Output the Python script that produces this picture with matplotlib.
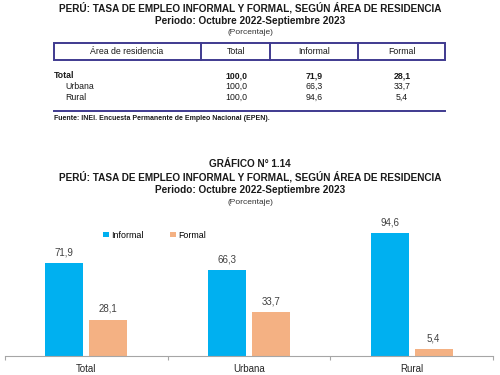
import matplotlib.pyplot as plt
from matplotlib.patches import Rectangle
from matplotlib.lines import Line2D

plt.rcParams['font.family'] = ['Liberation Sans', 'DejaVu Sans']

# data
areas = ["Total", "Urbana", "Rural"]
total = [100.0, 100.0, 100.0]
informal = [71.9, 66.3, 94.6]
formal = [28.1, 33.7, 5.4]
headers = ["Área de residencia", "Total", "Informal", "Formal"]

title = "PERÚ: TASA DE EMPLEO INFORMAL Y FORMAL, SEGÚN ÁREA DE RESIDENCIA"
period = "Periodo: Octubre 2022-Septiembre 2023"
unit = "(Porcentaje)"
source = "Fuente: INEI. Encuesta Permanente de Empleo Nacional (EPEN)."

C_INF = "#00B0F0"
C_FOR = "#F4B183"
C_BOX = "#3F3A8F"
C_TXT = "#1a1a1a"

W, H = 500, 375


def fx(px):
    return px / W


def fy(py):
    return 1 - py / H


def fmt(v):
    return f"{v:.1f}".replace(".", ",")


fig = plt.figure(figsize=(5, 3.75), dpi=100)

# ---- TABLE (top) ----
fig.text(0.5, fy(8), title, ha="center", va="center", fontsize=7.2, fontweight="bold", color=C_TXT)
fig.text(0.5, fy(21), period, ha="center", va="center", fontsize=7.2, fontweight="bold", color=C_TXT)
fig.text(0.5, fy(33), unit, ha="center", va="center", fontsize=6, color="#333333")

# header box
fig.patches.append(Rectangle((fx(54), fy(60)), fx(445) - fx(54), fy(43) - fy(60),
                             transform=fig.transFigure, fill=False, edgecolor=C_BOX, linewidth=1.4))
for xd in [201, 270, 358]:
    fig.lines.append(Line2D([fx(xd), fx(xd)], [fy(43), fy(60)], transform=fig.transFigure,
                            color=C_BOX, linewidth=1.4))
col_x = [127, 236, 314, 402]
for x, h in zip(col_x, headers):
    fig.text(fx(x), fy(51.5), h, ha="center", va="center", fontsize=6.3, color=C_TXT)

row_y = [76, 86.5, 97]
for i, (a, t, inf, fo) in enumerate(zip(areas, total, informal, formal)):
    wt = "bold" if i == 0 else "normal"
    lx = 54 if i == 0 else 65
    fig.text(fx(lx), fy(row_y[i]), a, ha="left", va="center", fontsize=6.3, fontweight=wt, color=C_TXT)
    for x, v in zip(col_x[1:], [t, inf, fo]):
        fig.text(fx(x), fy(row_y[i]), fmt(v), ha="center", va="center", fontsize=6.3,
                 fontweight=wt, color=C_TXT)

fig.lines.append(Line2D([fx(54), fx(445)], [fy(111), fy(111)], transform=fig.transFigure,
                        color=C_BOX, linewidth=1.4))
fig.text(fx(54), fy(118), source, ha="left", va="center", fontsize=5, fontweight="bold", color=C_TXT)

# ---- CHART (bottom) ----
fig.text(0.5, fy(164), "GRÁFICO N° 1.14", ha="center", va="center", fontsize=7.2, fontweight="bold", color=C_TXT)
fig.text(0.5, fy(177), title, ha="center", va="center", fontsize=7.2, fontweight="bold", color=C_TXT)
fig.text(0.5, fy(190), period, ha="center", va="center", fontsize=7.2, fontweight="bold", color=C_TXT)
fig.text(0.5, fy(203), unit, ha="center", va="center", fontsize=6, color="#333333")

ax = fig.add_axes([fx(5), fy(356), fx(493) - fx(5), fy(226.5) - fy(356)])
x = list(range(len(areas)))
bw = 0.235
off = 0.135
b1 = ax.bar([i - off for i in x], informal, width=bw, color=C_INF, label="Informal")
b2 = ax.bar([i + off for i in x], formal, width=bw, color=C_FOR, label="Formal")
for bars, vals in [(b1, informal), (b2, formal)]:
    for r, v in zip(bars, vals):
        ax.text(r.get_x() + r.get_width() / 2, v + 4.5, fmt(v), ha="center", va="bottom",
                fontsize=7, color="#404040")

ax.set_xlim(-0.5, 2.5)
ax.set_ylim(0, 100)
ax.set_yticks([])
ax.set_xticks(x)
ax.set_xticklabels(areas, fontsize=7, color="#262626")
ax.set_xticks([-0.5, 0.5, 1.5, 2.5], minor=True)
ax.tick_params(axis="x", which="major", length=0, pad=6)
ax.tick_params(axis="x", which="minor", length=3, color="#A6A6A6", width=0.8)
for s in ["top", "right", "left"]:
    ax.spines[s].set_visible(False)
ax.spines["bottom"].set_color("#A6A6A6")
ax.spines["bottom"].set_linewidth(0.8)
ax.set_facecolor("none")

ax.legend(loc="center left", bbox_to_anchor=(fx(99), fy(235)), bbox_transform=fig.transFigure,
          ncol=2, frameon=False, fontsize=6.4, handlelength=0.6, handleheight=0.6,
          handletextpad=0.3, columnspacing=3.0, borderpad=0)

fig.savefig("out.png", dpi=100)
